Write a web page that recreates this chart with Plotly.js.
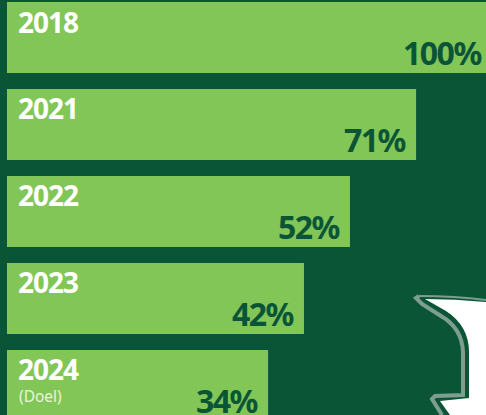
<!DOCTYPE html>
<html>
<head>
<meta charset="utf-8">
<script src="https://cdn.plot.ly/plotly-3.0.1.min.js"></script>
<style>
html,body{margin:0;padding:0;background:#0B5537;overflow:hidden}
#chart{width:486px;height:415px}
</style>
</head>
<body>
<div id="chart"></div>
<script>
// Years as printed
const years = ['2018','2021','2022','2023','2024'];
// Printed percentages
const percentLabels = ['100%','71%','52%','42%','34%'];
// Bar lengths as drawn in the picture (share of the 2018 bar; the artwork is not to scale with its labels)
const barLengths = [100, 85.4, 71.6, 62, 54.5];
const subLabels = ['', '', '', '', '(Doel)'];

const BG = '#0B5537', BAR = '#83C658';
const FONT = '"Noto Sans", "Open Sans", sans-serif';

const annotations = [];
years.forEach((y, i) => {
  annotations.push({xref:'x', yref:'y', x:0, y:i, xanchor:'left', yanchor:'middle', xshift:9, yshift:i===0?16:17,
    text:'<b style="letter-spacing:-1px">'+y+'</b>', showarrow:false, font:{family:FONT, size:28, color:'#ffffff'}});
  annotations.push({xref:'x', yref:'y', x:barLengths[i], y:i, xanchor:'right', yanchor:'middle',
    xshift:i===0?-3:-8, yshift:-15, text:'<b style="letter-spacing:-1.5px">'+percentLabels[i]+'</b>', showarrow:false,
    font:{family:FONT, size:32, color:BG}});
  if (subLabels[i]) annotations.push({xref:'x', yref:'y', x:0, y:i, xanchor:'left', yanchor:'middle', xshift:10, yshift:-10,
    text:subLabels[i], showarrow:false, font:{family:FONT, size:15.5, color:'#e8f4de'}});
});

// Speech-bubble decoration in the lower right, in paper fractions of the 486x415 window
const p = (x, y) => (x/486).toFixed(4) + ',' + (1 - y/415).toFixed(4);
const grayTop = 'M'+p(486,300)+' Q'+p(455,296)+' '+p(419,296);
const grayEdge = 'M'+p(419,296)+' L'+p(416,298)+' L'+p(422,304)+' L'+p(441,316)
  +' Q'+p(462,328)+' '+p(463,352)+' L'+p(463,395)+' L'+p(435,396)+' L'+p(432,399)+' L'+p(442,415);
const whiteEdge = 'M'+p(486,302)+' Q'+p(455,299)+' '+p(425,299)+' L'+p(446,311)
  +' Q'+p(469,326)+' '+p(469,352)+' L'+p(469,398)+' L'+p(440,401)+' L'+p(450,415)+' L'+p(486,415)+' Z';

Plotly.newPlot('chart', [{
  type:'bar', orientation:'h', y:years, x:barLengths,
  marker:{color:BAR, line:{width:0}}, hoverinfo:'skip'
}], {
  width:486, height:415, margin:{l:0,r:0,t:0,b:0},
  paper_bgcolor:BG, plot_bgcolor:BG, showlegend:false, bargap:0.184,
  xaxis:{range:[-1.46,100], visible:false, fixedrange:true},
  yaxis:{type:'category', range:[4.339,-0.431], visible:false, fixedrange:true},
  annotations:annotations,
  shapes:[
    {type:'path', xref:'paper', yref:'paper', path:grayTop, fillcolor:'rgba(0,0,0,0)', line:{color:'#7E9F90', width:2}},
    {type:'path', xref:'paper', yref:'paper', path:grayEdge, fillcolor:'rgba(0,0,0,0)', line:{color:'#7E9F90', width:4}},
    {type:'path', xref:'paper', yref:'paper', path:whiteEdge, fillcolor:'#ffffff', line:{width:0}}
  ]
}, {displayModeBar:false, staticPlot:true});
</script>
</body>
</html>
